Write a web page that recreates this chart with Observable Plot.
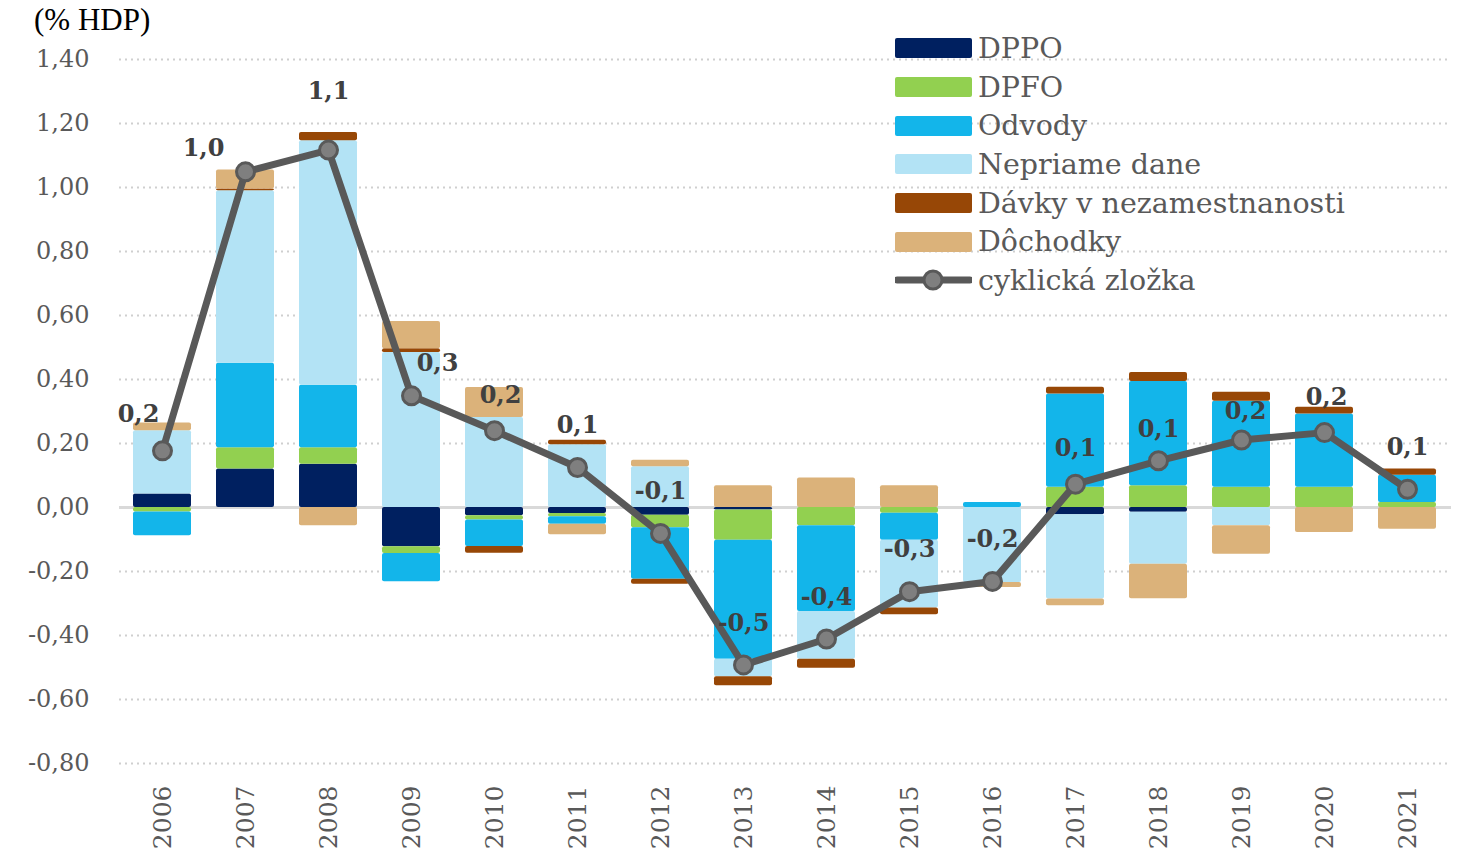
<!DOCTYPE html>
<html>
<head>
<meta charset="utf-8">
<script src="https://cdn.jsdelivr.net/npm/d3@7"></script>
<script src="https://cdn.jsdelivr.net/npm/@observablehq/plot@0.6"></script>
<style>
  body { margin: 0; background: #fff; width: 1458px; height: 859px; overflow: hidden; position: relative; }
  #title { position: absolute; left: 34px; top: 2px; font-family: "Liberation Serif", serif; font-size: 31px; color: #000; }
  #chart { position: absolute; left: 0; top: 40px; }
  #legend { position: absolute; left: 895px; top: 29px; font-family: "DejaVu Serif", serif; font-size: 28.5px; color: #595959; }
  .item { height: 38.7px; display: flex; align-items: center; }
  .sw { width: 77px; height: 20px; border-radius: 2px; margin-right: 6px; }
  .ln { width: 77px; height: 24px; margin-right: 6px; position: relative; }
</style>
</head>
<body>
<div id="title">(% HDP)</div>
<div id="chart"></div>
<div id="legend"></div>
<script>
const years = ["2006","2007","2008","2009","2010","2011","2012","2013","2014","2015","2016","2017","2018","2019","2020","2021"];
const seriesNames = ["DPPO","DPFO","Odvody","Nepriame dane","Dávky v nezamestnanosti","Dôchodky"];
const seriesColors = ["#002060","#92d050","#13b5ea","#b3e3f5","#974706","#dbb27a"];
const dppo     = [0.042, 0.120, 0.135, -0.123, -0.026, -0.019, -0.024, -0.008, 0, 0, 0, -0.023, -0.015, 0, 0, 0];
const dpfo     = [-0.014, 0.067, 0.052, -0.021, -0.013, -0.010, -0.039, -0.094, -0.057, -0.018, 0, 0.063, 0.068, 0.063, 0.063, 0.016];
const odvody   = [-0.074, 0.264, 0.195, -0.088, -0.083, -0.023, -0.161, -0.372, -0.268, -0.084, 0.016, 0.292, 0.326, 0.269, 0.229, 0.085];
const nepriame = [0.198, 0.539, 0.764, 0.484, 0.281, 0.196, 0.127, -0.055, -0.149, -0.212, -0.234, -0.263, -0.162, -0.057, 0, 0];
const davky    = [0, 0.005, 0.026, 0.012, -0.021, 0.014, -0.016, -0.028, -0.028, -0.021, 0, 0.021, 0.028, 0.028, 0.021, 0.019];
const dochodky = [0.024, 0.060, -0.057, 0.085, 0.094, -0.033, 0.021, 0.068, 0.092, 0.068, -0.016, -0.021, -0.108, -0.089, -0.078, -0.068];
const cyklicka = [0.177, 1.049, 1.117, 0.349, 0.240, 0.125, -0.081, -0.492, -0.411, -0.263, -0.231, 0.073, 0.146, 0.211, 0.234, 0.057];
const lineLabels = ["0,2","1,0","1,1","0,3","0,2","0,1","-0,1","-0,5","-0,4","-0,3","-0,2","0,1","0,1","0,2","0,2","0,1"];
const yTicks = [-0.8,-0.6,-0.4,-0.2,0,0.2,0.4,0.6,0.8,1.0,1.2,1.4];

const seriesValues = [dppo, dpfo, odvody, nepriame, davky, dochodky];
const bars = [];
seriesNames.forEach((s, i) => years.forEach((y, j) => bars.push({year: y, series: s, value: seriesValues[i][j]})));
const line = years.map((y, j) => ({year: y, value: cyklicka[j], label: lineLabels[j]}));

const fmt = d => (d < 0 ? "-" : "") + Math.abs(d).toFixed(2).replace(".", ",");
const font = "DejaVu Serif";

const labelOpts = {x: "year", y: "value", text: "label", fontFamily: font, fontWeight: "bold", fontSize: 24, fill: "#404040"};
// label placement offsets (style, not data)
const special = {
  "2006": [-24, -37], "2007": [-42, -24], "2008": [0, -59], "2009": [26, -33],
  "2010": [6, -35], "2017": [0, -36], "2018": [0, -31], "2019": [4, -29], "2020": [2, -35]
};

const chart = Plot.plot({
  width: 1458,
  height: 819,
  marginTop: 19,
  marginBottom: 96,
  marginLeft: 119,
  marginRight: 7,
  style: {fontFamily: font, background: "white"},
  x: {domain: years, paddingInner: 0.3, paddingOuter: 0.15, label: null},
  y: {domain: [-0.8, 1.4], label: null},
  color: {domain: seriesNames, range: seriesColors},
  marks: [
    Plot.gridY(yTicks.filter(d => d !== 0), {stroke: "#cfcfcf", strokeOpacity: 1, strokeWidth: 2, strokeDasharray: "2,4"}),
    Plot.axisY(yTicks, {tickSize: 0, tickPadding: 30, tickFormat: fmt, fontSize: 24, fill: "#595959", fontFamily: font}),
    Plot.axisX({tickSize: 0, tickPadding: 22, tickRotate: -90, fontSize: 25, fill: "#595959", fontFamily: font}),
    Plot.ruleY([0], {stroke: "#d9d9d9", strokeWidth: 3}),
    Plot.barY(bars, {x: "year", y: "value", fill: "series", rx: 2}),
    Plot.line(line, {x: "year", y: "value", stroke: "#595959", strokeWidth: 7}),
    Plot.dot(line, {x: "year", y: "value", r: 9, fill: "#7f7f7f", stroke: "#595959", strokeWidth: 3}),
    Plot.text(line.filter(d => !special[d.year]), {...labelOpts, dy: -42}),
    ...Object.entries(special).map(([yr, [dx, dy]]) =>
      Plot.text(line.filter(d => d.year === yr), {...labelOpts, dx, dy}))
  ]
});
document.getElementById("chart").appendChild(chart);

const legend = document.getElementById("legend");
seriesNames.forEach((s, i) => {
  const it = document.createElement("div");
  it.className = "item";
  it.innerHTML = `<div class="sw" style="background:${seriesColors[i]}"></div><span>${s}</span>`;
  legend.appendChild(it);
});
const it = document.createElement("div");
it.className = "item";
it.innerHTML = `<svg class="ln" width="77" height="24"><line x1="2" x2="75" y1="12" y2="12" stroke="#595959" stroke-width="7" stroke-linecap="round"/><circle cx="38" cy="12" r="9" fill="#7f7f7f" stroke="#595959" stroke-width="3"/></svg><span>cyklická zložka</span>`;
legend.appendChild(it);
</script>
</body>
</html>
